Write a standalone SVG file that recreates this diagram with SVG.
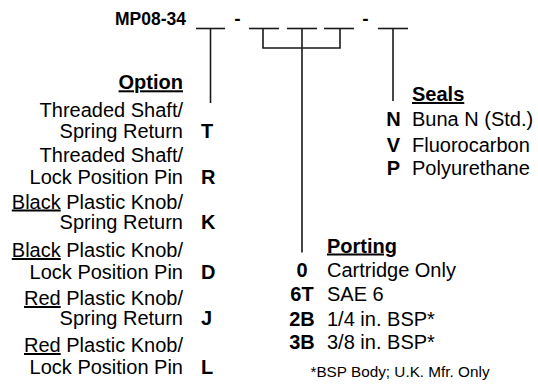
<svg xmlns="http://www.w3.org/2000/svg" width="538" height="385" viewBox="0 0 538 385">
<style>
  text { font-family: "Liberation Sans", Arial, sans-serif; fill: #000; }
  .t { font-size: 20px; }
  .b { font-weight: bold; }
  .h { font-weight: bold; text-decoration: underline; }
  .u { text-decoration: underline; }
  .end { text-anchor: end; }
  .mid { text-anchor: middle; }
  .fn { font-size: 15.3px; }
  .ln { stroke: #1a1a1a; stroke-width: 1.6; fill: none; }
</style>
<rect width="538" height="385" fill="#fff"/>

<g id="title">
  <text x="186" y="25" class="b end" font-size="17.5">MP08-34</text>
  <text x="237.5" y="24.5" class="b mid" font-size="19">-</text>
  <text x="365.5" y="24.5" class="b mid" font-size="19">-</text>
</g>

<g id="blanks">
  <line class="ln" x1="196" y1="28.5" x2="225" y2="28.5"/>
  <line class="ln" x1="249" y1="28.5" x2="279" y2="28.5"/>
  <line class="ln" x1="287" y1="28.5" x2="317" y2="28.5"/>
  <line class="ln" x1="324" y1="28.5" x2="354" y2="28.5"/>
  <line class="ln" x1="378" y1="28.5" x2="408" y2="28.5"/>
</g>

<g id="connectors">
  <line class="ln" x1="210.5" y1="28.5" x2="210.5" y2="103"/>
  <polyline class="ln" points="263,28.5 263,48 340,48 340,28.5"/>
  <line class="ln" x1="302" y1="28.5" x2="302" y2="252.5"/>
  <line class="ln" x1="393" y1="28.5" x2="393" y2="101"/>
</g>

<g id="option">
  <text x="183" y="89.3" class="t h end">Option</text>
  <text x="183" y="117" class="t end">Threaded Shaft/</text>
  <text x="183" y="137.5" class="t end">Spring Return</text>
  <text x="201" y="137.5" class="t b">T</text>
  <text x="183" y="162" class="t end">Threaded Shaft/</text>
  <text x="183" y="184" class="t end">Lock Position Pin</text>
  <text x="201" y="184" class="t b">R</text>
  <text x="183" y="208.5" class="t end"><tspan class="u">Black</tspan> Plastic Knob/</text>
  <text x="183" y="228.5" class="t end">Spring Return</text>
  <text x="201" y="228.5" class="t b">K</text>
  <text x="183" y="257" class="t end"><tspan class="u">Black</tspan> Plastic Knob/</text>
  <text x="183" y="278.5" class="t end">Lock Position Pin</text>
  <text x="201" y="278.5" class="t b">D</text>
  <text x="183" y="305" class="t end"><tspan class="u">Red</tspan> Plastic Knob/</text>
  <text x="183" y="325" class="t end">Spring Return</text>
  <text x="201" y="325" class="t b">J</text>
  <text x="183" y="352" class="t end"><tspan class="u">Red</tspan> Plastic Knob/</text>
  <text x="183" y="373.5" class="t end">Lock Position Pin</text>
  <text x="201" y="373.5" class="t b">L</text>
</g>

<g id="porting">
  <text x="327" y="252.5" class="t h">Porting</text>
  <text x="302" y="276.7" class="t b mid">0</text>
  <text x="327" y="276.7" class="t">Cartridge Only</text>
  <text x="302" y="301" class="t b mid">6T</text>
  <text x="327" y="301" class="t">SAE 6</text>
  <text x="302" y="325.5" class="t b mid">2B</text>
  <text x="327" y="325.5" class="t">1/4 in. BSP*</text>
  <text x="302" y="349" class="t b mid">3B</text>
  <text x="327" y="349" class="t">3/8 in. BSP*</text>
  <text x="400" y="376.5" class="fn mid">*BSP Body; U.K. Mfr. Only</text>
</g>

<g id="seals">
  <text x="412" y="101" class="t h">Seals</text>
  <text x="393.5" y="125.5" class="t b mid">N</text>
  <text x="412" y="125.5" class="t">Buna N (Std.)</text>
  <text x="393.5" y="151.5" class="t b mid">V</text>
  <text x="412" y="151.5" class="t">Fluorocarbon</text>
  <text x="393.5" y="175" class="t b mid">P</text>
  <text x="412" y="175" class="t">Polyurethane</text>
</g>
</svg>
